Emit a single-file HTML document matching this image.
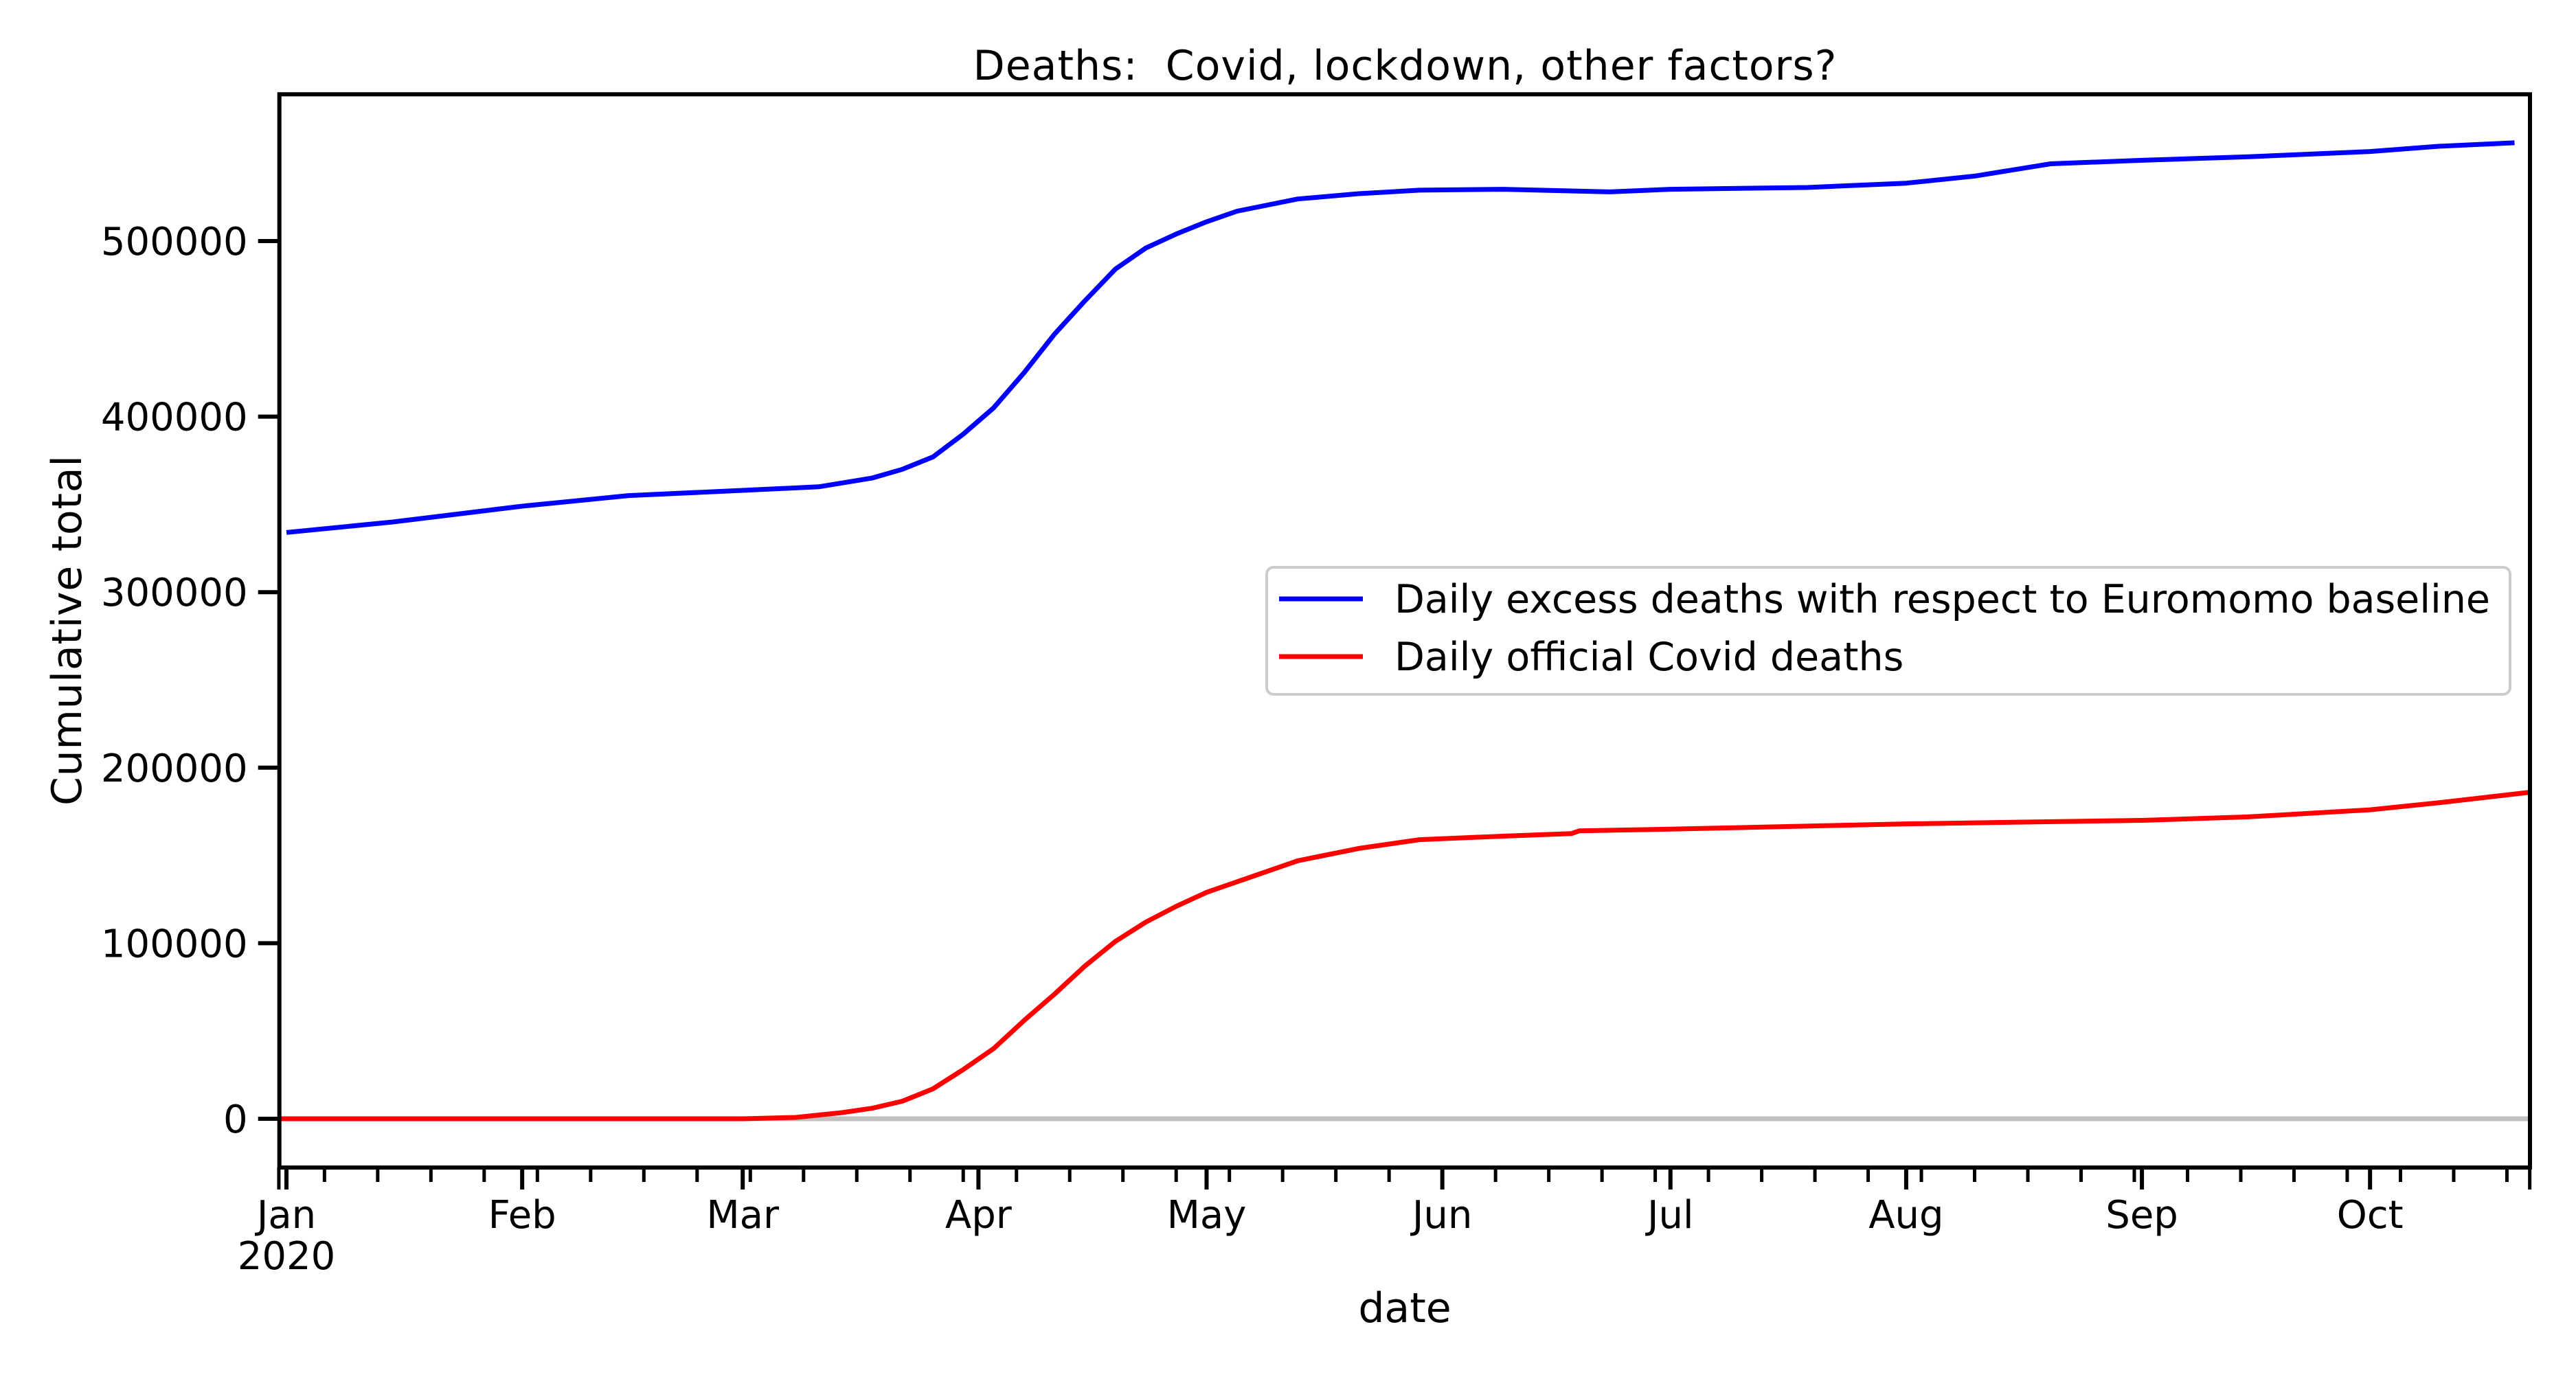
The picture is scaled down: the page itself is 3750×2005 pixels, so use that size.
<!DOCTYPE html>
<html><head><meta charset="utf-8"><style>
html,body{margin:0;padding:0;background:#fff;}
svg text{font-family:"DejaVu Sans","Liberation Sans",sans-serif;fill:#000;white-space:pre;}
</style></head><body>
<svg id="chart" xmlns="http://www.w3.org/2000/svg" width="3750" height="2000" viewBox="0 0 3750 2000">
<rect width="3750" height="2000" fill="#fff"/>
<text x="2045" y="116" font-size="60" text-anchor="middle" textLength="1257" xml:space="preserve">Deaths:&#160; Covid, lockdown, other factors?</text>
<text transform="translate(118,918) rotate(-90)" font-size="60" text-anchor="middle" textLength="510">Cumulative total</text>
<text x="2045" y="1925" font-size="60" text-anchor="middle">date</text>
<g id="plot"></g>
<g id="axes"></g>
<g id="legend">
<rect x="1844" y="826" width="1810" height="185" rx="10" fill="#fff" fill-opacity="0.8" stroke="#cccccc" stroke-width="4"/>
<line x1="1862" y1="872" x2="1984" y2="872" stroke="#0000ff" stroke-width="7"/>
<text x="2030" y="892" font-size="57" textLength="1595">Daily excess deaths with respect to Euromomo baseline</text>
<line x1="1862" y1="956" x2="1984" y2="956" stroke="#ff0000" stroke-width="7"/>
<text x="2030" y="976" font-size="57">Daily official Covid deaths</text>
</g>
</svg>
<script>
// day offsets from 2020-01-01
const excessDays = [0, 14, 31, 45, 60, 70, 77, 81, 85, 89, 93, 97, 101, 105, 109, 113, 117, 121, 125, 133, 141, 149, 160, 174, 182, 200, 213, 222, 232, 244, 258, 274, 283, 293];
const excessVals = [334000, 340000, 349000, 355000, 358000, 360000, 365000, 370000, 377000, 390000, 405000, 425000, 447000, 466000, 484000, 496000, 504000, 511000, 517000, 524000, 527000, 529000, 529500, 528000, 529500, 530500, 533000, 537000, 544000, 546000, 548000, 551000, 554000, 556000];
const covidDays = [-1, 60, 67, 73, 77, 81, 85, 89, 93, 97, 101, 105, 109, 113, 117, 121, 125, 133, 141, 149, 160, 169, 170, 182, 213, 244, 258, 274, 283, 295];
const covidVals = [0, 0, 800, 3500, 6000, 10000, 17000, 28000, 40000, 56000, 71000, 87000, 101000, 112000, 121000, 129000, 135000, 147000, 154000, 159000, 161000, 162500, 164000, 165000, 168000, 170000, 172000, 176000, 180000, 186000];
const yTicks = [0, 100000, 200000, 300000, 400000, 500000];
const monthLabels = ["Jan", "Feb", "Mar", "Apr", "May", "Jun", "Jul", "Aug", "Sep", "Oct"];
const monthDays = [0, 31, 60, 91, 121, 152, 182, 213, 244, 274];

const L = 406.7, R = 3683, T = 137.3, B = 1700;
const X0 = 417, PXD = 11.07;
const xs = d => X0 + d * PXD;
const ys = v => 1629 - v * 0.002556;
const NS = "http://www.w3.org/2000/svg";
function mk(tag, attrs, parent) {
  const e = document.createElementNS(NS, tag);
  for (const k in attrs) e.setAttribute(k, attrs[k]);
  parent.appendChild(e);
  return e;
}
const plot = document.getElementById('plot');
const axes = document.getElementById('axes');

const zl = mk('line', {x1: L, x2: R, y1: ys(0), y2: ys(0), stroke: '#c0c0c0', 'stroke-width': 7}, plot);



function series(days, vals, color, name) {
  const pts = days.map((d, i) => xs(d).toFixed(1) + ',' + ys(vals[i]).toFixed(1)).join(' ');
  const p = mk('polyline', {points: pts, fill: 'none', stroke: color, 'stroke-width': 7, 'stroke-linejoin': 'round'}, plot);
  
  
}
series(covidDays, covidVals, '#ff0000', 'covid-deaths-line');
series(excessDays, excessVals, '#0000ff', 'excess-deaths-line');

const frame = mk('rect', {x: L, y: T, width: R - L, height: B - T, fill: 'none', stroke: '#000', 'stroke-width': 6}, axes);



yTicks.forEach(v => {
  const t = mk('line', {x1: L - 31, x2: L, y1: ys(v), y2: ys(v), stroke: '#000', 'stroke-width': 6}, axes);
  
  
  const lb = mk('text', {x: L - 46, y: ys(v) + 20, 'font-size': 56, 'text-anchor': 'end'}, axes);
  lb.textContent = String(v);
  
  
});

const minor = [-1];
for (let d = 5; d <= 295; d += 7) minor.push(d);
minor.push(295);
minor.forEach(d => {
  const edge = (d === -1 || d === 295);
  const t = mk('line', {x1: xs(d), x2: xs(d), y1: B, y2: edge ? 1732 : 1721, stroke: '#000', 'stroke-width': 5}, axes);
  
  
});
monthDays.forEach((d, i) => {
  const t = mk('line', {x1: xs(d), x2: xs(d), y1: B, y2: 1732, stroke: '#000', 'stroke-width': 6}, axes);
  
  
  const lb = mk('text', {x: xs(d), y: 1788, 'font-size': 56, 'text-anchor': 'middle'}, axes);
  lb.textContent = monthLabels[i];
  
  
});
const yr = mk('text', {x: xs(0), y: 1848, 'font-size': 56, 'text-anchor': 'middle'}, axes);
yr.textContent = '2020';


</script>
</body></html>
